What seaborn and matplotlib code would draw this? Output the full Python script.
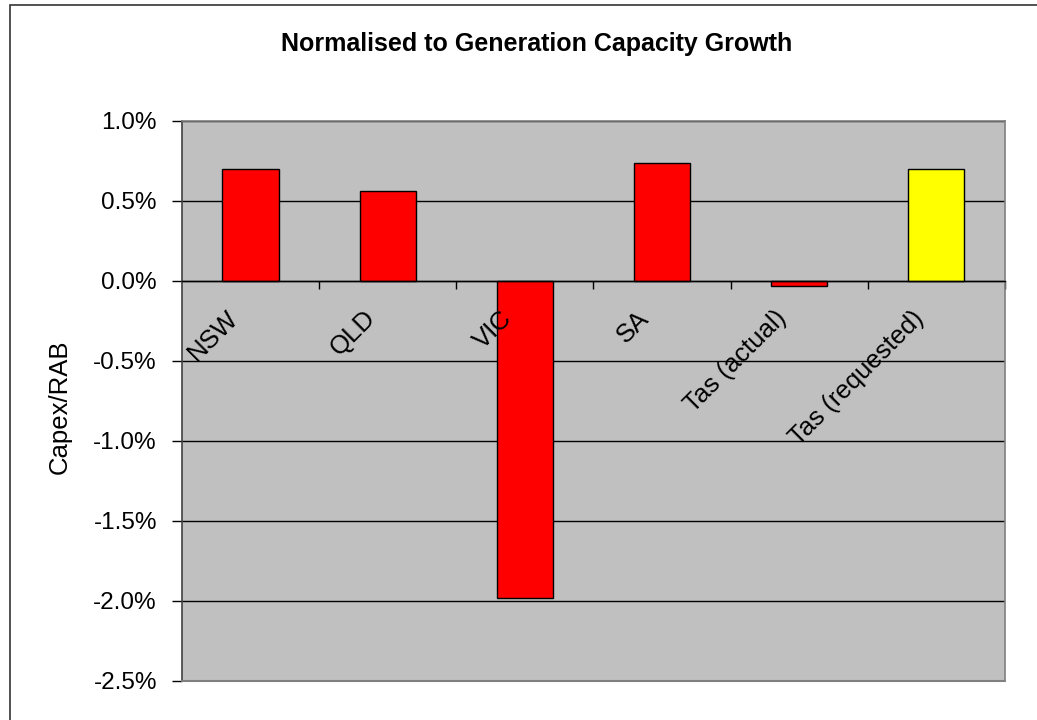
import matplotlib
matplotlib.use("Agg")
import matplotlib.pyplot as plt
import matplotlib.patches as mpatches
from matplotlib.ticker import FixedLocator, FuncFormatter
from matplotlib.transforms import ScaledTranslation
import seaborn as sns
import pandas as pd

# Capex / RAB, normalised to generation capacity growth (percent)
regions = ["NSW", "QLD", "VIC", "SA", "Tas (actual)", "Tas (requested)"]
capex_rab_pct = [0.70, 0.56, -1.98, 0.74, -0.03, 0.70]
bar_colours = ["#FF0000", "#FF0000", "#FF0000", "#FF0000", "#FF0000", "#FFFF00"]
y_ticks = [1.0, 0.5, 0.0, -0.5, -1.0, -1.5, -2.0, -2.5]

sns.set_theme(style="white")
plt.rcParams["font.family"] = ["Liberation Sans", "DejaVu Sans"]

df = pd.DataFrame({"region": regions, "value": capex_rab_pct})

DPI = 100
fig = plt.figure(figsize=(10.37, 7.2), dpi=DPI)
ax = fig.add_axes([0.1755, 0.0542, 0.7936, 0.7778])
ax.set_facecolor("#C0C0C0")

sns.barplot(data=df, x="region", y="value", hue="region", order=regions,
            hue_order=regions, palette=bar_colours, saturation=1, width=0.41,
            edgecolor="black", linewidth=1.0, legend=False, ax=ax, zorder=3)

ax.set_xlim(-0.5, len(regions) - 0.5)
ax.set_ylim(-2.5, 1.0)

# horizontal gridlines
ax.yaxis.set_major_locator(FixedLocator(y_ticks))
ax.yaxis.set_major_formatter(FuncFormatter(lambda v, _: f"{v:.1f}%"))
ax.grid(axis="y", color="black", linewidth=1.0, zorder=1)
ax.grid(axis="x", visible=False)
ax.set_axisbelow(True)

# plot-area frame
for side in ("top", "right"):
    ax.spines[side].set_color("#808080")
    ax.spines[side].set_linewidth(1.2)
ax.spines["left"].set_color("#404040")
ax.spines["left"].set_linewidth(1.2)
ax.plot([0, 1], [0, 0], transform=ax.transAxes, color="#808080",
        linewidth=1.5, clip_on=False, zorder=5)

# category axis sits on the zero line, ticks between categories
ax.spines["bottom"].set_position(("data", 0))
ax.spines["bottom"].set_color("black")
ax.spines["bottom"].set_linewidth(1.0)
ax.spines["bottom"].set_zorder(4)
ax.set_xticks(range(len(regions)))
ax.set_xticklabels([])
ax.set_xticks([i + 0.5 for i in range(len(regions))], minor=True)
ax.tick_params(axis="x", which="major", length=0)
ax.tick_params(axis="x", which="minor", bottom=True, length=6, width=1.0,
               direction="out", color="black")

# rotated category labels drawn over the bars
label_offset = ScaledTranslation(-8 / DPI, -25 / DPI, fig.dpi_scale_trans)
for i, name in enumerate(regions):
    ax.text(i, 0, name, rotation=45, ha="right", va="top", fontsize=18.5,
            color="black", zorder=10, transform=ax.transData + label_offset)

ax.tick_params(axis="y", which="major", left=True, length=7, width=1.0,
               direction="out", color="black", pad=11, labelsize=17.5,
               labelcolor="black")

ax.set_xlabel("")
ax.set_ylabel("Capex/RAB", fontsize=18.5, color="black")
ax.yaxis.set_label_coords(-0.134, 0.49)

fig.text(0.517, 1 - 44 / 720, "Normalised to Generation Capacity Growth",
         ha="center", va="center", fontsize=18, fontweight="bold",
         color="black")

# chart-area border
fig.patches.append(mpatches.Rectangle((10 / 1037, -0.1), 2.0, 1.1 - 5 / 720,
                                      transform=fig.transFigure, fill=False,
                                      edgecolor="#333333", linewidth=1.2))

fig.savefig("out.png", dpi=DPI, facecolor="white")
